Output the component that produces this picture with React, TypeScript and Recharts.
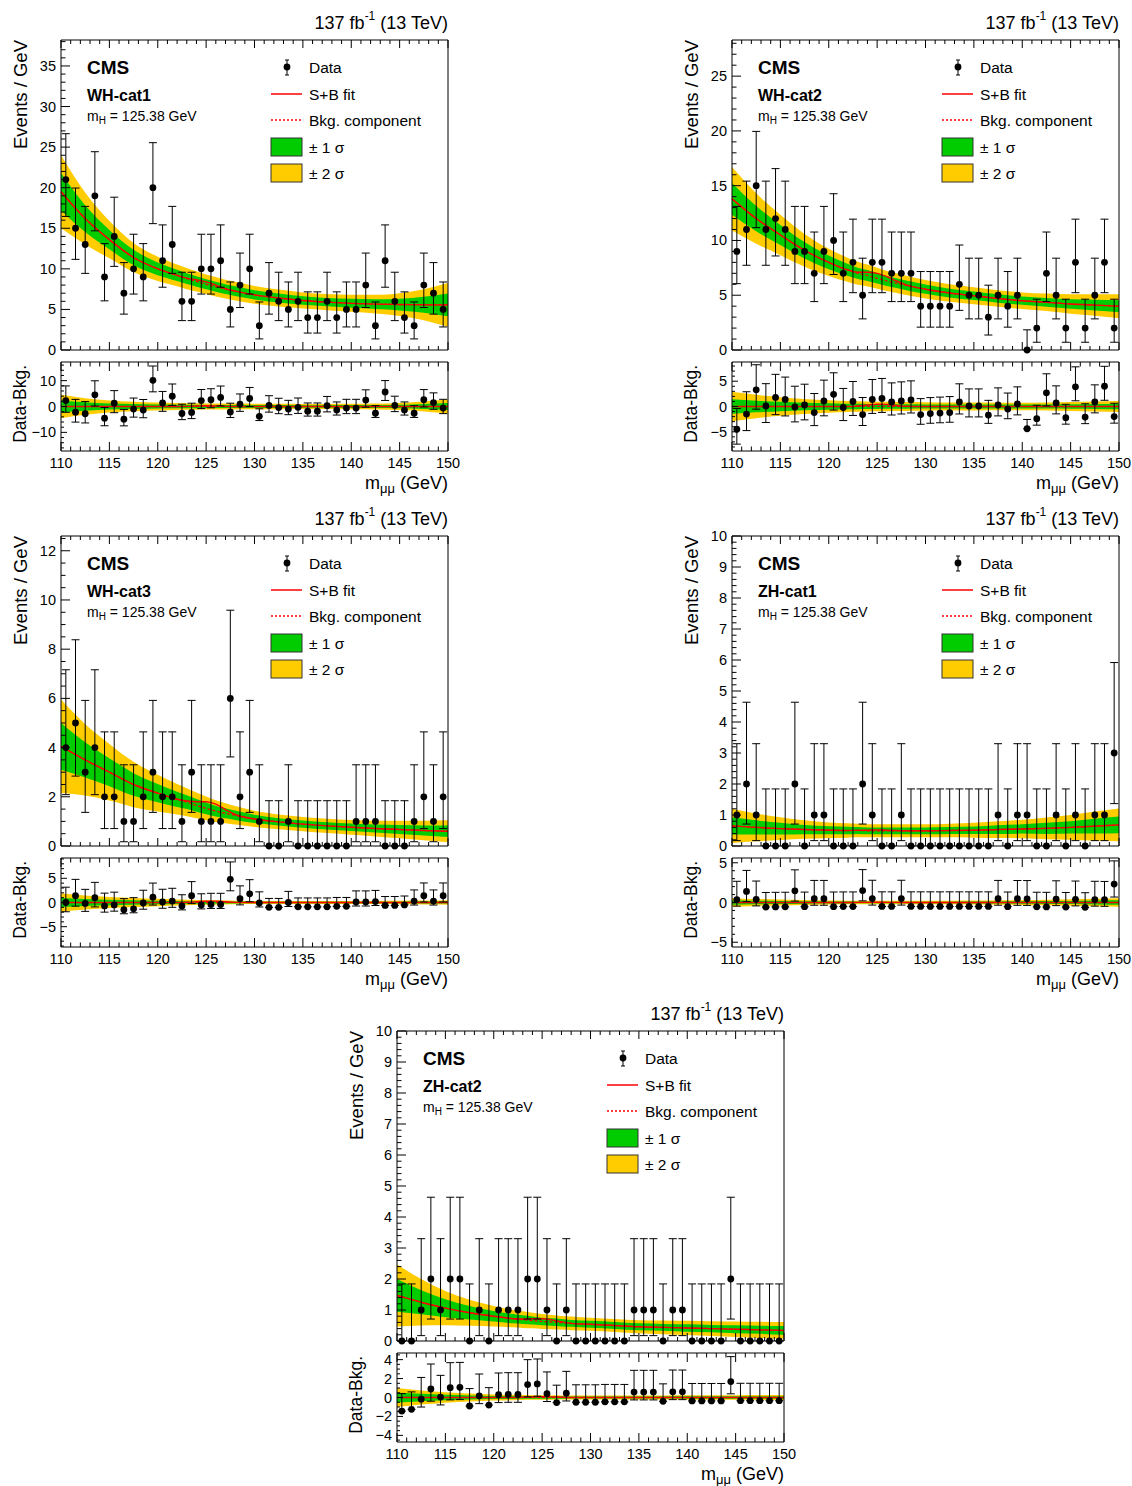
import React from 'react'
import { ComposedChart, Area, Line, Scatter, ErrorBar, XAxis, YAxis } from 'recharts'

const FONT = '"Liberation Sans", Arial, Helvetica, sans-serif'
const GREEN = '#00cc00'
const YELLOW = '#ffcc00'
const RED = '#ff0000'

const FRAME_W = 387
const MAIN_H = 310
const RATIO_TOP = 322
const RATIO_H = 89
const AXIS_W = 60

// 1 GeV bins of the data histogram
const BIN_CENTERS = [
  110.5, 111.5, 112.5, 113.5, 114.5, 115.5, 116.5, 117.5, 118.5, 119.5,
  120.5, 121.5, 122.5, 123.5, 124.5, 125.5, 126.5, 127.5, 128.5, 129.5,
  130.5, 131.5, 132.5, 133.5, 134.5, 135.5, 136.5, 137.5, 138.5, 139.5,
  140.5, 141.5, 142.5, 143.5, 144.5, 145.5, 146.5, 147.5, 148.5, 149.5,
]
// where the fit curves were read
const CURVE_X = [110, 112.5, 115, 117.5, 120, 122, 123, 124, 125, 126, 127, 128, 130, 132.5, 135, 137.5, 140, 142.5, 145, 147.5, 150]
const X_LABELS = [110, 115, 120, 125, 130, 135, 140, 145, 150]

// Garwood 68% intervals for a count n (down, up)
const POISSON_DN = [0, 0.827, 1.292, 1.633, 1.914, 2.159, 2.38, 2.581, 2.768, 2.943, 3.108, 3.265, 3.415, 3.559, 3.697, 3.829, 3.956, 4.08, 4.2, 4.317, 4.431, 4.541]
const POISSON_UP = [1.841, 2.3, 2.638, 2.918, 3.163, 3.382, 3.584, 3.77, 3.945, 4.11, 4.266, 4.416, 4.559, 4.697, 4.83, 4.958, 5.083, 5.204, 5.321, 5.435, 5.547, 5.655]

// WH-cat1
const WH1_DATA = [21, 15, 13, 19, 9, 14, 7, 10, 9, 20, 11, 13, 6, 6, 10, 10, 11, 5, 8, 10, 3, 7, 6, 5, 6, 4, 4, 6, 4, 5, 5, 8, 3, 11, 6, 4, 3, 8, 7, 5]
const WH1_DIFF = [2.3, -2.2, -2.8, 4.5, -4.5, 1.3, -4.9, -1.0, -1.4, 10.1, 1.4, 4.0, -2.7, -2.3, 2.3, 2.6, 3.5, -2.1, 0.9, 3.1, -3.8, 0.4, -0.4, -1.0, -0.3, -1.8, -1.8, 0.3, -1.4, -0.6, -0.6, 2.5, -2.6, 5.6, 0.4, -1.4, -2.6, 2.6, 1.5, -0.6]
const WH1_BKG = [19.5, 16.2, 13.6, 11.4, 10.0, 9.2, 8.8, 8.45, 8.1, 7.8, 7.5, 7.25, 6.8, 6.4, 6.1, 5.9, 5.75, 5.65, 5.6, 5.58, 5.55]
const WH1_SIG = [0, 0, 0, 0, 0, 0, 0.05, 0.2, 0.3, 0.2, 0.05, 0, 0, 0, 0, 0, 0, 0, 0, 0, 0]
const WH1_E1 = [2.3, 1.65, 1.2, 0.95, 0.78, 0.7, 0.67, 0.65, 0.62, 0.62, 0.6, 0.6, 0.57, 0.55, 0.52, 0.52, 0.55, 0.6, 0.72, 0.98, 1.4]
const WH1_E2 = [4.5, 3.2, 2.3, 1.8, 1.5, 1.35, 1.3, 1.25, 1.2, 1.2, 1.15, 1.15, 1.1, 1.05, 1.0, 1.0, 1.05, 1.15, 1.4, 1.9, 2.7]

// WH-cat2
const WH2_DATA = [9, 11, 15, 11, 12, 11, 9, 9, 7, 9, 10, 7, 8, 5, 8, 8, 7, 7, 7, 4, 4, 4, 4, 6, 5, 5, 3, 5, 4, 5, 0, 2, 7, 5, 2, 8, 2, 5, 8, 2]
const WH2_DIFF = [-4.5, -1.5, 3.3, 0.1, 1.8, 1.4, -0.1, 0.3, -1.2, 1.1, 2.4, -0.2, 1.0, -1.6, 1.4, 1.6, 0.9, 1.1, 1.3, -1.6, -1.4, -1.3, -1.2, 0.9, 0.1, 0.1, -1.7, 0.3, -0.5, 0.5, -4.4, -2.4, 2.7, 0.7, -2.2, 3.9, -2.1, 0.9, 4.0, -2.0]
const WH2_BKG = [13.8, 12.0, 10.5, 9.1, 8.0, 7.3, 7.0, 6.8, 6.55, 6.3, 6.1, 5.9, 5.55, 5.2, 4.95, 4.7, 4.5, 4.35, 4.2, 4.1, 4.0]
const WH2_SIG = [0, 0, 0, 0, 0, 0, 0.1, 0.3, 0.45, 0.4, 0.2, 0.05, 0, 0, 0, 0, 0, 0, 0, 0, 0]
const WH2_E1 = [1.45, 1.15, 0.92, 0.75, 0.62, 0.55, 0.52, 0.5, 0.48, 0.46, 0.45, 0.44, 0.42, 0.4, 0.39, 0.38, 0.38, 0.4, 0.44, 0.49, 0.55]
const WH2_E2 = [2.9, 2.3, 1.85, 1.5, 1.25, 1.1, 1.05, 1.0, 0.95, 0.92, 0.9, 0.88, 0.85, 0.8, 0.78, 0.76, 0.76, 0.8, 0.88, 0.98, 1.1]

// WH-cat3
const WH3_DATA = [4, 5, 3, 4, 2, 2, 1, 1, 2, 3, 2, 2, 1, 3, 1, 1, 1, 6, 2, 3, 1, 0, 0, 1, 0, 0, 0, 0, 0, 0, 1, 1, 1, 0, 0, 0, 1, 2, 1, 2]
const WH3_DIFF = [0.0, 1.4, -0.2, 1.0, -0.7, -0.5, -1.5, -1.3, -0.1, 1.1, 0.1, 0.3, -0.7, 1.4, -0.5, -0.4, -0.4, 4.8, 0.8, 1.8, -0.1, -1.0, -1.0, 0.0, -0.9, -0.9, -0.9, -0.9, -0.8, -0.8, 0.1, 0.1, 0.2, -0.6, -0.6, -0.5, 0.3, 1.4, 0.3, 1.4]
const WH3_BKG = [4.05, 3.5, 3.0, 2.5, 2.15, 1.9, 1.78, 1.65, 1.53, 1.42, 1.33, 1.25, 1.1, 0.98, 0.89, 0.82, 0.76, 0.71, 0.67, 0.63, 0.6]
const WH3_SIG = [0, 0, 0, 0, 0, 0, 0.05, 0.15, 0.27, 0.28, 0.15, 0.03, 0, 0, 0, 0, 0, 0, 0, 0, 0]
const WH3_E1 = [0.95, 0.72, 0.57, 0.46, 0.37, 0.31, 0.28, 0.26, 0.24, 0.22, 0.2, 0.19, 0.17, 0.15, 0.15, 0.15, 0.15, 0.16, 0.18, 0.2, 0.23]
const WH3_E2 = [1.9, 1.45, 1.15, 0.92, 0.75, 0.62, 0.57, 0.52, 0.48, 0.44, 0.41, 0.38, 0.33, 0.3, 0.29, 0.29, 0.3, 0.32, 0.36, 0.4, 0.45]

// ZH-cat1
const ZH1_DATA = [1, 2, 1, 0, 0, 0, 2, 0, 1, 1, 0, 0, 0, 2, 1, 0, 0, 1, 0, 0, 0, 0, 0, 0, 0, 0, 0, 1, 0, 1, 1, 0, 0, 1, 0, 1, 0, 1, 1, 3]
const ZH1_DIFF = [0.37, 1.4, 0.4, -0.58, -0.56, -0.55, 1.47, -0.53, 0.48, 0.48, -0.52, -0.51, -0.51, 1.5, 0.5, -0.5, -0.5, 0.5, -0.5, -0.5, -0.5, -0.5, -0.5, -0.5, -0.5, -0.5, -0.5, 0.48, -0.52, 0.47, 0.46, -0.55, -0.56, 0.43, -0.58, 0.4, -0.61, 0.37, 0.35, 2.32]
const ZH1_BKG = [0.65, 0.6, 0.56, 0.53, 0.51, 0.5, 0.5, 0.49, 0.49, 0.49, 0.49, 0.49, 0.49, 0.5, 0.51, 0.53, 0.55, 0.57, 0.6, 0.64, 0.68]
const ZH1_SIG = [0, 0, 0, 0, 0, 0, 0.01, 0.02, 0.03, 0.02, 0.01, 0, 0, 0, 0, 0, 0, 0, 0, 0, 0]
const ZH1_E1 = [0.28, 0.23, 0.19, 0.15, 0.13, 0.12, 0.11, 0.11, 0.11, 0.11, 0.11, 0.11, 0.11, 0.11, 0.12, 0.14, 0.15, 0.18, 0.2, 0.24, 0.27]
const ZH1_E2 = [0.55, 0.45, 0.37, 0.3, 0.25, 0.23, 0.22, 0.21, 0.21, 0.21, 0.21, 0.21, 0.21, 0.22, 0.24, 0.27, 0.3, 0.35, 0.4, 0.47, 0.53]

// ZH-cat2
const ZH2_DATA = [0, 0, 1, 2, 1, 2, 2, 0, 1, 0, 1, 1, 1, 2, 2, 1, 0, 1, 0, 0, 0, 0, 0, 0, 1, 1, 1, 0, 1, 1, 0, 0, 0, 0, 2, 0, 0, 0, 0, 0]
const ZH2_DIFF = [-1.43, -1.25, -0.18, 0.9, 0.04, 1.04, 1.07, -0.9, 0.18, -0.8, 0.29, 0.32, 0.32, 1.36, 1.43, 0.4, -0.54, 0.46, -0.5, -0.5, -0.5, -0.46, -0.46, -0.46, 0.57, 0.57, 0.57, -0.4, 0.6, 0.6, -0.36, -0.36, -0.36, -0.36, 1.68, -0.34, -0.34, -0.34, -0.34, -0.34]
const ZH2_BKG = [1.47, 1.25, 1.06, 0.91, 0.8, 0.72, 0.69, 0.66, 0.63, 0.61, 0.59, 0.57, 0.54, 0.5, 0.46, 0.44, 0.42, 0.4, 0.38, 0.36, 0.34]
const ZH2_SIG = [0, 0, 0, 0, 0, 0, 0.02, 0.06, 0.09, 0.07, 0.03, 0, 0, 0, 0, 0, 0, 0, 0, 0, 0]
const ZH2_E1 = [0.53, 0.39, 0.29, 0.22, 0.17, 0.15, 0.14, 0.13, 0.12, 0.12, 0.12, 0.11, 0.11, 0.11, 0.11, 0.11, 0.12, 0.12, 0.13, 0.13, 0.14]
const ZH2_E2 = [1.0, 0.75, 0.55, 0.42, 0.33, 0.28, 0.27, 0.25, 0.24, 0.23, 0.22, 0.22, 0.21, 0.21, 0.21, 0.22, 0.23, 0.24, 0.25, 0.26, 0.27]

function stepTicks(lo: number, hi: number, step: number) {
  const out: number[] = []
  for (let i = Math.ceil(lo / step - 1e-9); i * step <= hi + 1e-9; i++) out.push(+(i * step).toFixed(4))
  return out
}

const X_TICKS = stepTicks(110, 150, 1)

interface PanelConf {
  name: string
  fx: number
  fy: number
  counts: number[]
  diff: number[]
  bkg: number[]
  sig: number[]
  e1: number[]
  e2: number[]
  yMax: number
  yLabels: number[]
  yMinor: number
  rMax: number
  rLabels: number[]
  rMinor: number
}

const PANELS: PanelConf[] = [
  { name: 'WH-cat1', fx: 61, fy: 40, counts: WH1_DATA, diff: WH1_DIFF, bkg: WH1_BKG, sig: WH1_SIG, e1: WH1_E1, e2: WH1_E2,
    yMax: 38.2, yLabels: [0, 5, 10, 15, 20, 25, 30, 35], yMinor: 1, rMax: 17.2, rLabels: [-10, 0, 10], rMinor: 2 },
  { name: 'WH-cat2', fx: 732, fy: 40, counts: WH2_DATA, diff: WH2_DIFF, bkg: WH2_BKG, sig: WH2_SIG, e1: WH2_E1, e2: WH2_E2,
    yMax: 28.3, yLabels: [0, 5, 10, 15, 20, 25], yMinor: 1, rMax: 8.8, rLabels: [-5, 0, 5], rMinor: 1 },
  { name: 'WH-cat3', fx: 61, fy: 536, counts: WH3_DATA, diff: WH3_DIFF, bkg: WH3_BKG, sig: WH3_SIG, e1: WH3_E1, e2: WH3_E2,
    yMax: 12.6, yLabels: [0, 2, 4, 6, 8, 10, 12], yMinor: 0.5, rMax: 9.2, rLabels: [-5, 0, 5], rMinor: 1 },
  { name: 'ZH-cat1', fx: 732, fy: 536, counts: ZH1_DATA, diff: ZH1_DIFF, bkg: ZH1_BKG, sig: ZH1_SIG, e1: ZH1_E1, e2: ZH1_E2,
    yMax: 10, yLabels: [0, 1, 2, 3, 4, 5, 6, 7, 8, 9, 10], yMinor: 0.2, rMax: 5.6, rLabels: [-5, 0, 5], rMinor: 1 },
  { name: 'ZH-cat2', fx: 397, fy: 1031, counts: ZH2_DATA, diff: ZH2_DIFF, bkg: ZH2_BKG, sig: ZH2_SIG, e1: ZH2_E1, e2: ZH2_E2,
    yMax: 10, yLabels: [0, 1, 2, 3, 4, 5, 6, 7, 8, 9, 10], yMinor: 0.2, rMax: 4.7, rLabels: [-4, -2, 0, 2, 4], rMinor: 0.5 },
]

type Side = 'bottom' | 'top' | 'left' | 'right'

const fmt = (v: number) => (v < 0 ? '\u2212' + Math.abs(v) : String(v))

function makeTick(side: Side, labels: number[], majorLen: number, minorLen: number, showLabels: boolean) {
  return (props: any) => {
    const { x, y, payload } = props
    const v = payload.value as number
    const isMajor = labels.some((m) => Math.abs(m - v) < 1e-6)
    const len = isMajor ? majorLen : minorLen
    let c = { x1: x, y1: y, x2: x, y2: y - len }
    if (side === 'top') c = { x1: x, y1: y, x2: x, y2: y + len }
    if (side === 'left') c = { x1: x, y1: y, x2: x + len, y2: y }
    if (side === 'right') c = { x1: x, y1: y, x2: x - len, y2: y }
    return (
      <g>
        <line {...c} stroke="#000" strokeWidth={1} />
        {showLabels && isMajor && side === 'bottom' && (
          <text x={x} y={y + 12} textAnchor="middle" dominantBaseline="central" fontFamily={FONT} fontSize={14.5} fill="#000">
            {fmt(v)}
          </text>
        )}
        {showLabels && isMajor && side === 'left' && (
          <text x={x - 5} y={y} textAnchor="end" dominantBaseline="central" fontFamily={FONT} fontSize={14.5} fill="#000">
            {fmt(v)}
          </text>
        )}
      </g>
    )
  }
}

const Marker = (props: any) => <circle cx={props.cx} cy={props.cy} r={3.4} fill="#000" />

// four inward-ticked frame axes; the top/right ones are 1 px thick so they still render
function frameAxes(yDomain: [number, number], yTicks: number[], yLabels: number[], yLen: number[], xLen: number[], xLabels: boolean) {
  const axisLine = { stroke: '#000', strokeWidth: 1 }
  return [
    <XAxis key="xb" xAxisId="b" type="number" dataKey="x" domain={[110, 150]} ticks={X_TICKS} interval={0} height={1}
      tickSize={0} tickMargin={0} tickLine={false} axisLine={axisLine} tick={makeTick('bottom', X_LABELS, xLen[0], xLen[1], xLabels)} />,
    <XAxis key="xt" xAxisId="t" orientation="top" type="number" dataKey="x" domain={[110, 150]} ticks={X_TICKS} interval={0} height={1}
      tickSize={0} tickMargin={0} tickLine={false} axisLine={axisLine} tick={makeTick('top', X_LABELS, xLen[0], xLen[1], false)} />,
    <YAxis key="yl" yAxisId="l" type="number" domain={yDomain} ticks={yTicks} interval={0} width={AXIS_W}
      tickSize={0} tickMargin={0} tickLine={false} axisLine={axisLine} tick={makeTick('left', yLabels, yLen[0], yLen[1], true)} />,
    <YAxis key="yr" yAxisId="r" orientation="right" type="number" domain={yDomain} ticks={yTicks} interval={0} width={1}
      tickSize={0} tickMargin={0} tickLine={false} axisLine={axisLine} tick={makeTick('right', yLabels, yLen[0], yLen[1], false)} />,
  ]
}

function Panel({ p }: { p: PanelConf }) {
  const rows = CURVE_X.map((x, i) => ({
    x,
    bkg: p.bkg[i],
    sb: p.bkg[i] + p.sig[i],
    sig: p.sig[i],
    zero: 0,
    band1: [p.bkg[i] - p.e1[i], p.bkg[i] + p.e1[i]],
    band2: [p.bkg[i] - p.e2[i], p.bkg[i] + p.e2[i]],
    rband1: [-p.e1[i], p.e1[i]],
    rband2: [-p.e2[i], p.e2[i]],
  }))
  const points = BIN_CENTERS.map((x, i) => ({ x, y: p.counts[i], err: [POISSON_DN[p.counts[i]], POISSON_UP[p.counts[i]]] }))
  const diffPoints = BIN_CENTERS.map((x, i) => ({ x, y: p.diff[i], err: [POISSON_DN[p.counts[i]], POISSON_UP[p.counts[i]]] }))
  const ids = { xAxisId: 'b', yAxisId: 'l' }

  return (
    <>
      <div style={{ position: 'absolute', left: p.fx - AXIS_W, top: p.fy - 10 }}>
        <ComposedChart width={FRAME_W + AXIS_W + 20} height={MAIN_H + 20} data={rows} margin={{ top: 9, right: 19, bottom: 9, left: 0 }}>
          {frameAxes([0, p.yMax], stepTicks(0, p.yMax, p.yMinor), p.yLabels, [9, 4.5], [8, 4], false)}
          <Area {...ids} type="monotone" dataKey="band2" stroke="none" fill={YELLOW} fillOpacity={1} isAnimationActive={false} activeDot={false} />
          <Area {...ids} type="monotone" dataKey="band1" stroke="none" fill={GREEN} fillOpacity={1} isAnimationActive={false} activeDot={false} />
          <Line {...ids} type="monotone" dataKey="bkg" stroke={RED} strokeWidth={1.2} strokeDasharray="3 2" dot={false} isAnimationActive={false} />
          <Line {...ids} type="monotone" dataKey="sb" stroke={RED} strokeWidth={1.4} dot={false} isAnimationActive={false} />
          <Scatter {...ids} data={points} dataKey="y" shape={Marker} isAnimationActive={false}>
            <ErrorBar dataKey="err" direction="y" width={4} stroke="#000" strokeWidth={1} isAnimationActive={false} />
          </Scatter>
        </ComposedChart>
      </div>
      <div style={{ position: 'absolute', left: p.fx - AXIS_W, top: p.fy + RATIO_TOP - 10 }}>
        <ComposedChart width={FRAME_W + AXIS_W + 20} height={RATIO_H + 40} data={rows} margin={{ top: 9, right: 19, bottom: 29, left: 0 }}>
          {frameAxes([-p.rMax, p.rMax], stepTicks(-p.rMax, p.rMax, p.rMinor), p.rLabels, [6, 3], [9, 4.5], true)}
          <Area {...ids} type="monotone" dataKey="rband2" stroke="none" fill={YELLOW} fillOpacity={1} isAnimationActive={false} activeDot={false} />
          <Area {...ids} type="monotone" dataKey="rband1" stroke="none" fill={GREEN} fillOpacity={1} isAnimationActive={false} activeDot={false} />
          <Line {...ids} type="monotone" dataKey="zero" stroke={RED} strokeWidth={1.2} strokeDasharray="3 2" dot={false} isAnimationActive={false} />
          <Line {...ids} type="monotone" dataKey="sig" stroke={RED} strokeWidth={1.4} dot={false} isAnimationActive={false} />
          <Scatter {...ids} data={diffPoints} dataKey="y" shape={Marker} isAnimationActive={false}>
            <ErrorBar dataKey="err" direction="y" width={4} stroke="#000" strokeWidth={1} isAnimationActive={false} />
          </Scatter>
        </ComposedChart>
      </div>
    </>
  )
}

function PanelText({ p }: { p: PanelConf }) {
  const { fx, fy } = p
  const lx = fx + 210
  const tx = fx + 248
  return (
    <g fontFamily={FONT} fill="#000">
      <text x={fx + FRAME_W} y={fy - 17} textAnchor="end" dominantBaseline="central" fontSize={18}>
        137 fb<tspan dy={-7} fontSize={12}>-1</tspan>
        <tspan dy={7}> (13 TeV)</tspan>
      </text>
      <text x={fx + 26} y={fy + 27} dominantBaseline="central" fontSize={19} fontWeight="bold">CMS</text>
      <text x={fx + 26} y={fy + 55} dominantBaseline="central" fontSize={16} fontWeight="bold">{p.name}</text>
      <text x={fx + 26} y={fy + 76} dominantBaseline="central" fontSize={14}>
        m<tspan dy={4} fontSize={10}>H</tspan>
        <tspan dy={-4}> = 125.38 GeV</tspan>
      </text>

      <line x1={lx + 16} x2={lx + 16} y1={fy + 20} y2={fy + 35} stroke="#000" strokeWidth={1} />
      <line x1={lx + 14} x2={lx + 18} y1={fy + 20} y2={fy + 20} stroke="#000" strokeWidth={1} />
      <line x1={lx + 14} x2={lx + 18} y1={fy + 35} y2={fy + 35} stroke="#000" strokeWidth={1} />
      <circle cx={lx + 16} cy={fy + 27} r={3.4} fill="#000" />
      <text x={tx} y={fy + 27} dominantBaseline="central" fontSize={15.5}>Data</text>

      <line x1={lx} x2={lx + 31} y1={fy + 54} y2={fy + 54} stroke={RED} strokeWidth={1.5} />
      <text x={tx} y={fy + 54} dominantBaseline="central" fontSize={15.5}>S+B fit</text>

      <line x1={lx} x2={lx + 31} y1={fy + 80} y2={fy + 80} stroke={RED} strokeWidth={1.3} strokeDasharray="2 2" />
      <text x={tx} y={fy + 80} dominantBaseline="central" fontSize={15.5}>Bkg. component</text>

      <rect x={lx} y={fy + 98} width={31} height={18} fill={GREEN} stroke="#333" strokeWidth={1} />
      <text x={tx} y={fy + 107} dominantBaseline="central" fontSize={15.5}>± 1 σ</text>
      <rect x={lx} y={fy + 124} width={31} height={18} fill={YELLOW} stroke="#333" strokeWidth={1} />
      <text x={tx} y={fy + 133} dominantBaseline="central" fontSize={15.5}>± 2 σ</text>

      <text transform={`translate(${fx - 41},${fy}) rotate(-90)`} textAnchor="end" dominantBaseline="central" fontSize={18.5}>
        Events / GeV
      </text>
      <text transform={`translate(${fx - 41},${fy + 325}) rotate(-90)`} textAnchor="end" dominantBaseline="central" fontSize={17.5}>
        Data-Bkg.
      </text>
      <text x={fx + FRAME_W} y={fy + 443} textAnchor="end" dominantBaseline="central" fontSize={18}>
        m<tspan dy={5} fontSize={13}>μμ</tspan>
        <tspan dy={-5}> (GeV)</tspan>
      </text>
    </g>
  )
}

export default function App() {
  return (
    <div style={{ position: 'absolute', left: 0, top: 0, width: 1132, height: 1486, background: '#fff', fontFamily: FONT }}>
      {PANELS.map((p) => (
        <Panel key={p.name} p={p} />
      ))}
      <svg width={1132} height={1486} style={{ position: 'absolute', left: 0, top: 0, pointerEvents: 'none' }}>
        {PANELS.map((p) => (
          <PanelText key={p.name} p={p} />
        ))}
      </svg>
    </div>
  )
}
